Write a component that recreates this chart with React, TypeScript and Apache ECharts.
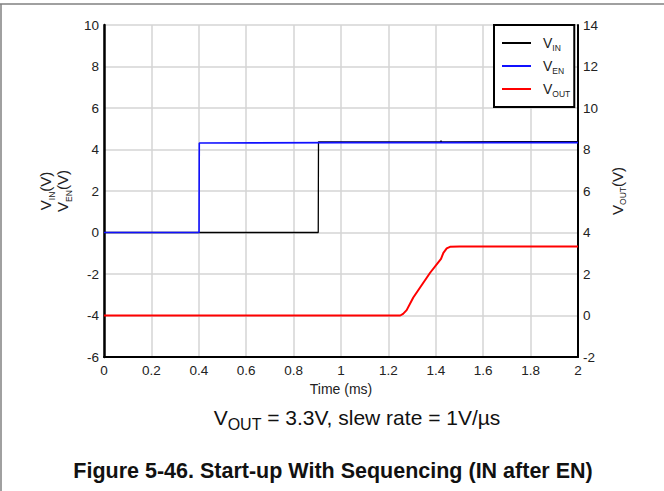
import React, { useEffect, useRef } from "react";
import * as echarts from "echarts";

const FONT = "'Liberation Sans', Arial, sans-serif";

const xTicks = [0, 0.2, 0.4, 0.6, 0.8, 1, 1.2, 1.4, 1.6, 1.8, 2];
const leftTicks = [-6, -4, -2, 0, 2, 4, 6, 8, 10];
const rightTicks = [-2, 0, 2, 4, 6, 8, 10, 12, 14];

const vinData: [number, number][] = [
  [0, 0], [0.904, 0], [0.905, 4.37], [1.42, 4.37], [1.421, 4.42], [1.425, 4.37], [2, 4.38],
];
const venData: [number, number][] = [
  [0, 0], [0.401, 0], [0.402, 4.31], [1.0, 4.33], [2, 4.33],
];
const voutData: [number, number][] = [
  [0, 0], [1.25, 0], [1.262, 0.08], [1.277, 0.26], [1.305, 0.87], [1.376, 2.06],
  [1.422, 2.73], [1.432, 3.02], [1.446, 3.23], [1.46, 3.31], [1.5, 3.32], [2, 3.32],
];

export default function App() {
  const ref = useRef<HTMLDivElement>(null);
  useEffect(() => {
    if (!ref.current) return;
    const chart = echarts.init(ref.current, undefined, { renderer: "svg" });
    const nameRich = {
      v: { fontSize: 15, fontFamily: FONT, color: "#222", lineHeight: 17 },
      s: { fontSize: 8.5, fontFamily: FONT, color: "#222", verticalAlign: "bottom", lineHeight: 17, padding: [0, 0, -2, 0] },
    };
    const legRich = {
      v: { fontSize: 14, fontFamily: FONT, color: "#222", lineHeight: 14 },
      s: { fontSize: 8.5, fontFamily: FONT, color: "#222", verticalAlign: "bottom", lineHeight: 14, padding: [0, 0, -2, 0] },
    };
    const tickLabel = { fontSize: 13.5, color: "#222", fontFamily: FONT };
    chart.setOption({
      animation: false,
      backgroundColor: "#fff",
      textStyle: { fontFamily: FONT },
      grid: { left: 104, right: 86, top: 25, bottom: 134, containLabel: false },
      legend: {
        orient: "vertical",
        left: 494,
        top: 25,
        padding: [11, 4, 9, 8],
        itemGap: 7,
        itemWidth: 29,
        itemHeight: 2,
        icon: "rect",
        backgroundColor: "#fff",
        borderColor: "#000",
        borderWidth: 2,
        borderRadius: 0,
        data: ["V_IN", "V_EN", "V_OUT"],
        formatter: (name: string) => `{v|V}{s|${name.slice(2)}}`,
        textStyle: { rich: legRich, padding: [0, 0, 0, 7] },
      },
      xAxis: {
        type: "value",
        min: xTicks[0],
        max: xTicks[xTicks.length - 1],
        interval: 0.2,
        name: "Time (ms)",
        nameLocation: "middle",
        nameGap: 21,
        nameTextStyle: { fontSize: 14, color: "#222", fontFamily: FONT },
        axisLine: { show: true, onZero: false, lineStyle: { color: "#000", width: 2 } },
        axisTick: { show: false },
        axisLabel: { ...tickLabel, margin: 6 },
        splitLine: { show: true, lineStyle: { color: "#d4d4d4", width: 1.5 } },
      },
      yAxis: [
        {
          type: "value",
          min: leftTicks[0],
          max: leftTicks[leftTicks.length - 1],
          interval: 2,
          name: "{v|V}{s|IN}{v|(V)}\n{v|V}{s|EN}{v|(V)}",
          nameLocation: "middle",
          nameRotate: 90,
          nameGap: 27,
          nameTextStyle: { rich: nameRich, fontSize: 15, lineHeight: 17, color: "#222" },
          axisLine: { show: true, onZero: false, lineStyle: { color: "#000", width: 2.5 } },
          axisTick: { show: false },
          axisLabel: { ...tickLabel, margin: 5 },
          splitLine: { show: true, lineStyle: { color: "#d4d4d4", width: 1.5 } },
        },
        {
          type: "value",
          min: rightTicks[0],
          max: rightTicks[rightTicks.length - 1],
          interval: 2,
          position: "right",
          name: "{v|V}{s|OUT}{v|(V)}",
          nameLocation: "middle",
          nameRotate: 90,
          nameGap: 25,
          nameTextStyle: { rich: nameRich, fontSize: 15, lineHeight: 17, color: "#222" },
          axisLine: { show: true, onZero: false, lineStyle: { color: "#000", width: 2 } },
          axisTick: { show: false },
          axisLabel: { ...tickLabel, margin: 5 },
          splitLine: { show: false },
        },
      ],
      series: [
        {
          name: "V_IN",
          type: "line",
          yAxisIndex: 0,
          data: vinData,
          symbol: "none",
          lineStyle: { color: "#000", width: 1.3 },
          itemStyle: { color: "#000" },
        },
        {
          name: "V_EN",
          type: "line",
          yAxisIndex: 0,
          data: venData,
          symbol: "none",
          lineStyle: { color: "#1010ff", width: 1.6 },
          itemStyle: { color: "#1010ff" },
        },
        {
          name: "V_OUT",
          type: "line",
          yAxisIndex: 1,
          data: voutData,
          symbol: "none",
          lineStyle: { color: "#ff0000", width: 2 },
          itemStyle: { color: "#ff0000" },
        },
      ],
      graphic: [
        { type: "line", shape: { x1: 0, y1: 4, x2: 664, y2: 4 }, style: { stroke: "#808080", lineWidth: 1.5 } },
        { type: "line", shape: { x1: 1, y1: 4, x2: 1, y2: 491 }, style: { stroke: "#808080", lineWidth: 1.5 } },
        {
          type: "text",
          x: 357,
          y: 417,
          style: {
            text: "V{s|OUT} = 3.3V, slew rate = 1V/µs",
            align: "center",
            verticalAlign: "middle",
            fontFamily: FONT,
            fontSize: 21,
            fill: "#111",
            rich: {
              s: { fontSize: 16, fontFamily: FONT, fill: "#111", verticalAlign: "bottom", padding: [0, 0, -5, 0] },
            },
          },
        },
        {
          type: "text",
          x: 333,
          y: 471,
          style: {
            text: "Figure 5-46. Start-up With Sequencing (IN after EN)",
            align: "center",
            verticalAlign: "middle",
            fontFamily: FONT,
            fontSize: 21.5,
            fontWeight: "bold",
            fill: "#111",
          },
        },
      ],
    });
    return () => chart.dispose();
  }, []);
  return (
    <div
      ref={ref}
      style={{ position: "fixed", left: 0, top: 0, width: 664, height: 491 }}
    />
  );
}
